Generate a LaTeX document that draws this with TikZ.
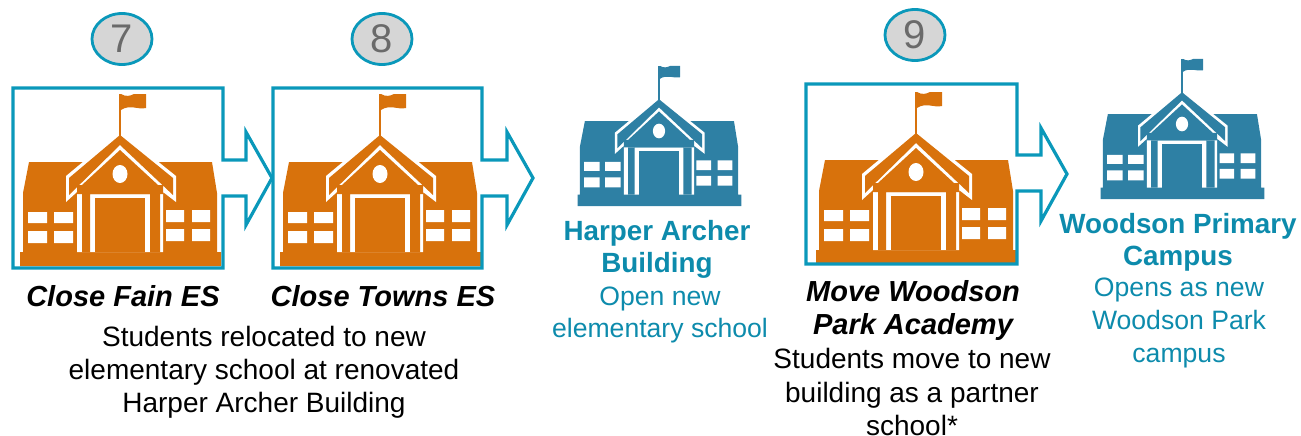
\documentclass[tikz,border=0pt]{standalone}
\usepackage{fontspec}
\setmainfont{Liberation Sans}
\definecolor{frameblue}{HTML}{0A98BA}
\definecolor{schoolorange}{HTML}{D8720C}
\definecolor{schoolblue}{HTML}{2E80A4}
\definecolor{labelblue}{HTML}{0D8BAC}
\definecolor{numgrey}{HTML}{6A6A6A}
\definecolor{badgefill}{HTML}{D6D6D6}
\newcommand{\schoolicon}[4]{%
\begin{scope}[shift={(#1,#2)},x=#3pt,y=#3pt]
  \fill[#4] (-100,0) -- (-100,14) -- (-97,14) -- (-97,73) -- (-91,104) -- (92,104) -- (97,73) -- (97,14) -- (101,14) -- (101,0) -- cycle;
  \fill[white] (0,135) -- (56,90) -- (56,64) -- (43,74) -- (43,14) -- (-43,14) -- (-43,74) -- (-54,64) -- (-54,90) -- cycle;
  \fill[#4] (0,131) -- (53,88) -- (53,71) -- (0,121) -- (-51,71) -- (-51,88) -- cycle;
  \fill[#4] (0,116) -- (38,81) -- (43,81) -- (43,72) -- (-43,72) -- (-43,81) -- (-38,81) -- cycle;
  \fill[#4] (-38,72) -- (-38,14) -- (-30,14) -- (-30,76) -- (30,76) -- (30,14) -- (40,14) -- (40,72) -- cycle;
  \fill[#4] (-25,14) rectangle (25,68);
  \fill[white] (0,92) ellipse [x radius=7.5, y radius=9];
  \fill[white] (-92,43) rectangle (-73,54) (-66,43) rectangle (-47,54) (-92,23) rectangle (-73,35) (-66,23) rectangle (-47,35);
  \fill[white] (46,44) rectangle (64,56) (72,44) rectangle (90,56) (46,25) rectangle (64,37) (72,25) rectangle (90,37);
  \fill[#4] (-1,130) rectangle (1,172);
  \fill[#4] (1,172) .. controls (6,169) and (10,170) .. (14,172) -- (26,172) -- (26,158) .. controls (18,156) and (10,162) .. (1,156) -- cycle;
\end{scope}}
\tikzset{
  badge/.style={ellipse,draw=frameblue,line width=2.8pt,fill=badgefill,minimum width=60pt,minimum height=51pt,inner sep=0pt,text=numgrey,font=\fontsize{40}{40}\selectfont},
  frameline/.style={draw=frameblue,line width=3.2pt,miter limit=10},
  caption/.style={align=center,inner sep=0pt,font=\fontsize{29}{33.5}\selectfont\bfseries\itshape,text=black},
  desc/.style={align=center,inner sep=0pt,font=\fontsize{28}{33.2}\selectfont,text=black},
  bluehead/.style={align=center,inner sep=0pt,font=\fontsize{27.8}{32}\selectfont\bfseries,text=labelblue},
  bluedesc/.style={align=center,inner sep=0pt,font=\fontsize{26.6}{32.6}\selectfont,text=labelblue},
}
\usetikzlibrary{shapes.geometric}
\begin{document}
\begin{tikzpicture}[x=1pt,y=-1pt]
\useasboundingbox (0,0) rectangle (1301,436);
% icons
\schoolicon{120}{266}{1}{schoolorange}
\schoolicon{380}{266}{1}{schoolorange}
\schoolicon{916}{264}{1}{schoolorange}
\schoolicon{659}{206}{0.815}{schoolblue}
\schoolicon{1182}{199}{0.815}{schoolblue}
% frames with arrows
\draw[frameline] (13,88) -- (223,88) -- (223,160) -- (246,160) -- (246,132) -- (272,178) -- (246,225) -- (246,196) -- (223,196) -- (223,268) -- (13,268) -- cycle;
\draw[frameline] (273,88) -- (482,88) -- (482,160) -- (507,160) -- (507,132) -- (533,178) -- (507,225) -- (507,196) -- (482,196) -- (482,268) -- (273,268) -- cycle;
\draw[frameline] (806,84) -- (1017,84) -- (1017,155) -- (1041,155) -- (1041,128) -- (1067,174) -- (1041,221) -- (1041,191) -- (1017,191) -- (1017,264) -- (806,264) -- cycle;
% badges
\node[badge] (b7) at (122,39) {7};
\node[badge] (b8) at (382,39) {8};
\node[badge] (b9) at (915,35) {9};
% texts
\node[caption] (fain) at (123,296.5) {Close Fain ES};
\node[caption] (towns) at (383,296.5) {Close Towns ES};
\node[desc] (relocated) at (264,372.5) {Students relocated to new\\elementary school at renovated\\Harper Archer Building};
\node[bluehead] (harper) at (657,249.5) {Harper Archer\\Building};
\node[bluedesc] (harperd) at (660,315) {Open new\\elementary school};
\node[caption] (woodson) at (913,310.5) {Move Woodson\\Park Academy};
\node[desc] (moved) at (912,392) {Students move to new\\building as a partner\\school*};
\node[bluehead] (primary) at (1178,242.5) {Woodson Primary\\Campus};
\node[bluedesc] (primaryd) at (1179,323) {Opens as new\\Woodson Park\\campus};
\end{tikzpicture}
\end{document}
